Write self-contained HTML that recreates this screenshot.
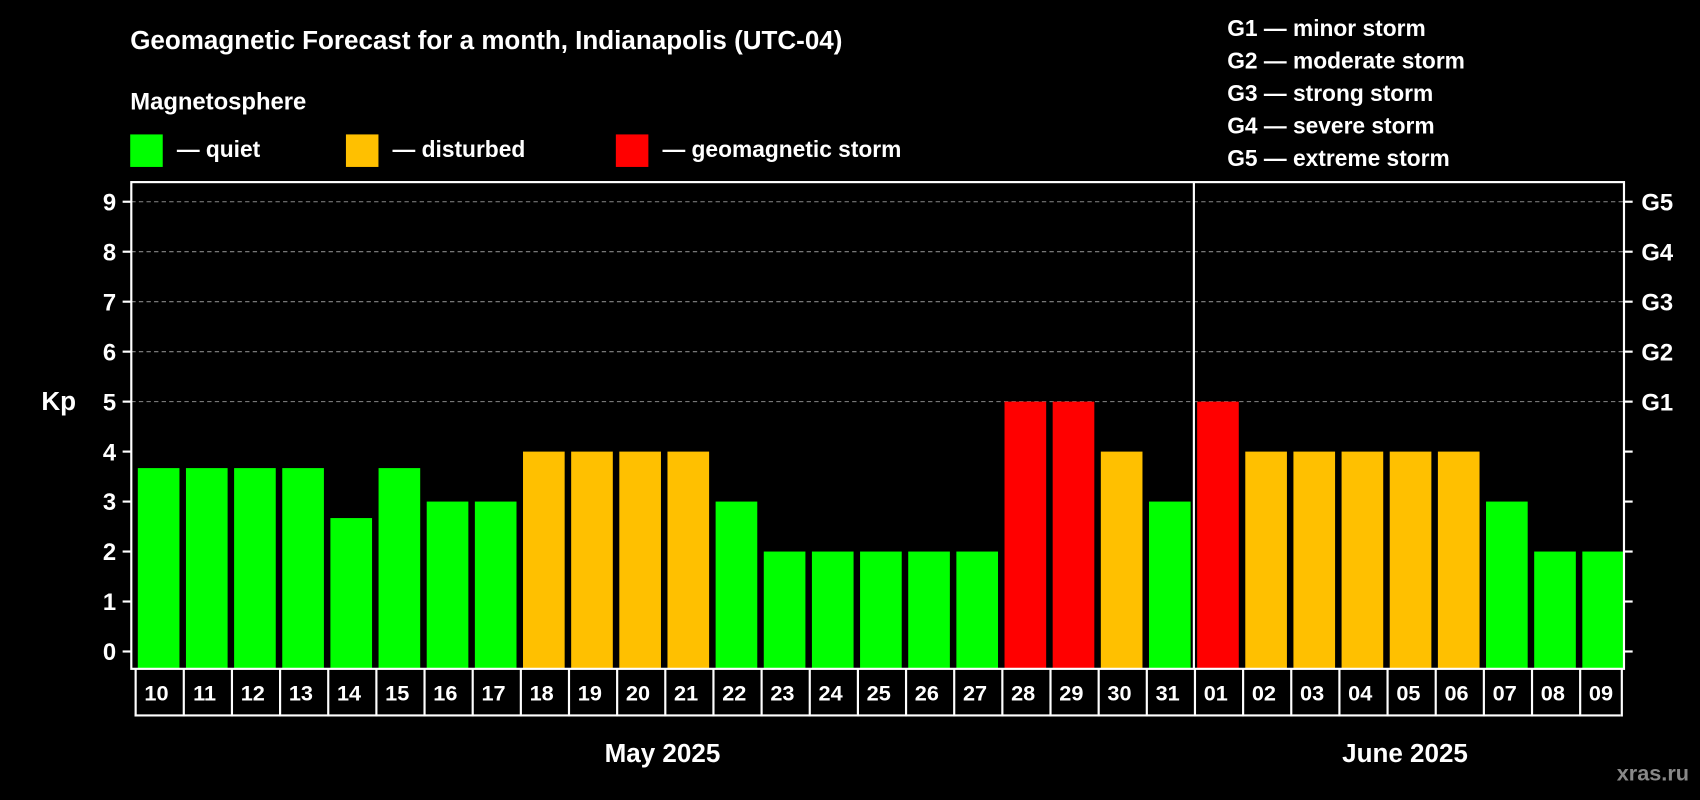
<!DOCTYPE html>
<html><head><meta charset="utf-8"><style>html,body{margin:0;background:#000;}svg{display:block}text{font-family:"Liberation Sans",Arial,sans-serif;font-weight:bold;fill:#fff}</style></head>
<body>
<svg id="c" width="1700" height="800" viewBox="0 0 1568 738" xmlns="http://www.w3.org/2000/svg">
<rect width="1568" height="738" fill="#000"/>
<text x="120" y="45" font-size="24">Geomagnetic Forecast for a month, Indianapolis (UTC-04)</text>
<text x="120" y="101" font-size="22">Magnetosphere</text>
<g><rect x="120" y="124" width="30" height="30" fill="#00ff00"/><text x="163" y="145" font-size="21">— quiet</text></g>
<g><rect x="319" y="124" width="30" height="30" fill="#ffc000"/><text x="362" y="145" font-size="21">— disturbed</text></g>
<g><rect x="568" y="124" width="30" height="30" fill="#ff0000"/><text x="611" y="145" font-size="21">— geomagnetic storm</text></g>
<g font-size="21">
<text x="1132" y="33">G1 — minor storm</text><text x="1132" y="63">G2 — moderate storm</text><text x="1132" y="93">G3 — strong storm</text><text x="1132" y="123">G4 — severe storm</text><text x="1132" y="153">G5 — extreme storm</text></g>
<text x="38" y="378" font-size="24">Kp</text>
<text x="611" y="703" font-size="24" text-anchor="middle">May 2025</text>
<text x="1296" y="703" font-size="24" text-anchor="middle">June 2025</text>
<text x="1558" y="720" font-size="20" text-anchor="end" style="fill:#888">xras.ru</text>
<g id="plot"></g>
</svg>
<script>
const days=["10","11","12","13","14","15","16","17","18","19","20","21","22","23","24","25","26","27","28","29","30","31","01","02","03","04","05","06","07","08","09"];
const kp=[3.67,3.67,3.67,3.67,2.67,3.67,3,3,4,4,4,4,3,2,2,2,2,2,5,5,4,3,5,4,4,4,4,4,3,2,2];
const yTicks=[0,1,2,3,4,5,6,7,8,9];
const gLabels=["G1","G2","G3","G4","G5"];
const NS="http://www.w3.org/2000/svg";
const L=121,R=1498,T=168,B=617,y0=601,unit=46.1;
const pitch=(R-L)/days.length;
const y=v=>y0-v*unit;
const x=i=>L+i*pitch;
const g=document.getElementById('plot');
function mk(t,a,p){const e=document.createElementNS(NS,t);for(const k in a)e.setAttribute(k,a[k]);(p||g).appendChild(e);return e;}
function col(v){return v>=5?"#ff0000":v>=4?"#ffc000":"#00ff00";}
// gridlines
for(let v=5;v<=9;v++){const l=mk('line',{x1:L,x2:R,y1:y(v),y2:y(v),stroke:'#888','stroke-dasharray':'4,3','stroke-width':1});

}
// bars
kp.forEach((v,i)=>{const r=mk('rect',{x:x(i)+6,y:y(v),width:pitch-6,height:B-y(v),fill:col(v)});

});
// frame
const f=mk('rect',{x:L,y:T,width:R-L,height:B-T,fill:'none',stroke:'#fff','stroke-width':2});


// y ticks
yTicks.forEach(v=>{mk('line',{x1:L-8,x2:L,y1:y(v),y2:y(v),stroke:'#fff','stroke-width':2});
mk('line',{x1:R,x2:R+8,y1:y(v),y2:y(v),stroke:'#fff','stroke-width':2});
const t=mk('text',{x:L-14,y:y(v)+8,'font-size':22,'text-anchor':'end'});t.textContent=v;

});
gLabels.forEach((s,i)=>{const t=mk('text',{x:R+16,y:y(5+i)+8,'font-size':22});t.textContent=s;

});
// day boxes
mk('line',{x1:L+3,x2:R-3,y1:660,y2:660,stroke:'#fff','stroke-width':2});
days.forEach((d,i)=>{mk('line',{x1:x(i)+4,x2:x(i)+4,y1:B,y2:661,stroke:'#fff','stroke-width':2});
if(i==days.length-1)mk('line',{x1:x(i+1)-2,x2:x(i+1)-2,y1:B,y2:661,stroke:'#fff','stroke-width':2});
const t=mk('text',{x:x(i)+pitch/2+1,y:646,'font-size':20,'text-anchor':'middle'});t.textContent=d;

});
// month separator
const si=days.indexOf("01");
const s=mk('line',{x1:x(si)+3,x2:x(si)+3,y1:T,y2:B,stroke:'#fff','stroke-width':2});


</script>
</body></html>
